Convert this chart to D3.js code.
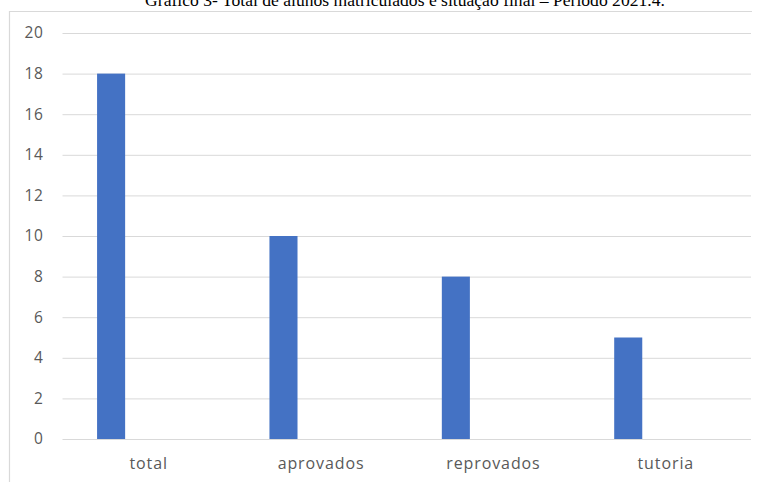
<!DOCTYPE html>
<html>
<head>
<meta charset="utf-8">
<script src="https://cdn.jsdelivr.net/npm/d3@7"></script>
<style>
  html, body { margin: 0; padding: 0; background: #fff; }
  svg { display: block; }
</style>
</head>
<body>
<svg id="chart" width="761" height="482"></svg>
<script>
const title = "Gráfico 3- Total de alunos matriculados e situação final – Período 2021.4.";
const categories = ["total", "aprovados", "reprovados", "tutoria"];
const seriesNames = ["Série1", "Série2"];
const values = [18, 10, 8, 5];
const yTicks = [0, 2, 4, 6, 8, 10, 12, 14, 16, 18, 20];

const svg = d3.select("#chart");
const W = 761, H = 482;
const plot = { left: 62.5, right: 752, top: 33, bottom: 439 };

svg.append("rect").attr("width", W).attr("height", H).attr("fill", "#fff");

// title (cropped at top in reference)
svg.append("text")
  .attr("x", 405).attr("y", 6)
  .attr("text-anchor", "middle")
  .attr("font-family", "'Liberation Serif', 'Times New Roman', serif")
  .attr("font-size", 17.6)
  .attr("fill", "#000")
  .text(title);

// chart frame (top and left visible)
svg.append("line").attr("x1", 9).attr("x2", 752).attr("y1", 11.5).attr("y2", 11.5)
  .attr("stroke", "#d9d9d9").attr("stroke-width", 1.2);
svg.append("line").attr("x1", 9.5).attr("x2", 9.5).attr("y1", 11).attr("y2", H)
  .attr("stroke", "#d9d9d9").attr("stroke-width", 1.2);

const y = d3.scaleLinear().domain([0, 20]).range([plot.bottom, plot.top]);
const x = d3.scaleBand().domain(categories).range([plot.left, plot.right]).padding(0);
const x1 = d3.scaleBand().domain(seriesNames).range([0, x.bandwidth()])
  .paddingInner(0.6267).paddingOuter(0.46);

const labelFont = "'Open Sans', 'Noto Sans', sans-serif";

// gridlines
const yAxis = d3.axisLeft(y).tickValues(yTicks).tickSize(-(plot.right - plot.left - 1)).tickPadding(19);
const gy = svg.append("g").attr("transform", `translate(${plot.left},0)`).call(yAxis);
gy.select(".domain").remove();
gy.selectAll(".tick line").attr("stroke", "#d9d9d9").attr("stroke-width", 1);
gy.selectAll(".tick text")
  .attr("font-family", labelFont)
  .attr("font-size", 15.5)
  .attr("letter-spacing", 0.6)
  .attr("fill", "#595959");

// bars
svg.append("g").selectAll("rect")
  .data(categories.map((c, i) => ({ c, v: values[i] })))
  .join("rect")
  .attr("x", d => x(d.c) + x1("Série1"))
  .attr("width", x1.bandwidth())
  .attr("y", d => y(d.v))
  .attr("height", d => y(0) - y(d.v))
  .attr("fill", "#4472C4");

// x axis labels
const xAxis = d3.axisBottom(x).tickSize(0).tickPadding(19);
const gx = svg.append("g").attr("transform", `translate(0,${plot.bottom})`).call(xAxis);
gx.select(".domain").remove();
gx.selectAll(".tick text")
  .attr("font-family", labelFont)
  .attr("font-size", 16)
  .attr("letter-spacing", 0.9)
  .attr("fill", "#595959");
</script>
</body>
</html>
